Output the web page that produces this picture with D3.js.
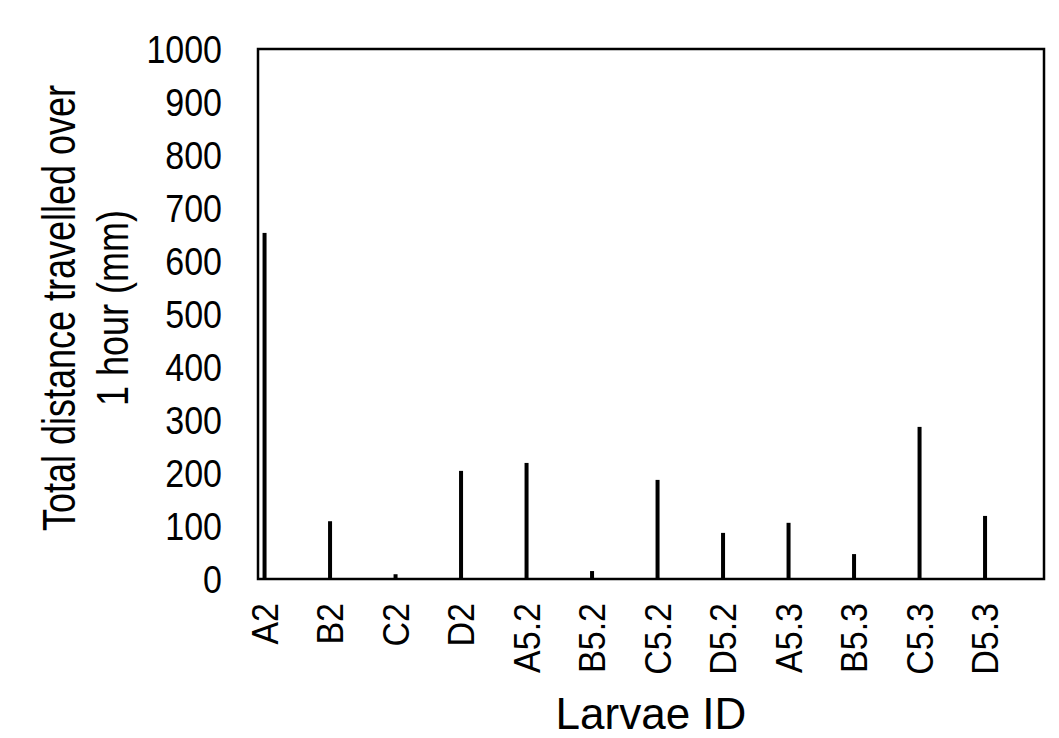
<!DOCTYPE html>
<html>
<head>
<meta charset="utf-8">
<script src="https://cdn.jsdelivr.net/npm/d3@7"></script>
<style>
  body { margin: 0; background: #fff; }
  svg text { font-family: "Liberation Sans", Arial, sans-serif; fill: #000; }
</style>
</head>
<body>
<svg id="chart" width="1059" height="738"></svg>
<script>
// larvae IDs and total distance over 1 hour (mm)
const larvae = ['A2', 'B2', 'C2', 'D2', 'A5.2', 'B5.2', 'C5.2', 'D5.2', 'A5.3', 'B5.3', 'C5.3', 'D5.3'];
const distance = [653, 109, 9, 204, 219, 15, 187, 87, 106, 47, 287, 119];
const yTicks = [0, 100, 200, 300, 400, 500, 600, 700, 800, 900, 1000];

const margin = { left: 258, right: 15, top: 49, bottom: 159 };
const size = { width: 1059, height: 738 };

const svg = d3.select('#chart');

const xScale = d3.scaleBand()
  .domain(larvae)
  .range([margin.left, size.width - margin.right])
  .padding(0);

const yScale = d3.scaleLinear()
  .domain([0, 1000])
  .range([size.height - margin.bottom, margin.top]);

const barW = 4;
const barX = d => xScale(d) + xScale.step() * 0.1; // bars sit near the left of each band

// bars
svg.append('g')
  .selectAll('rect')
  .data(larvae.map((id, i) => ({ id, value: distance[i] })))
  .enter()
  .append('rect')
  .attr('x', d => barX(d.id) - barW / 2)
  .attr('y', d => yScale(d.value))
  .attr('width', barW)
  .attr('height', d => yScale(0) - yScale(d.value))
  .attr('fill', '#000');

// plot frame
svg.append('rect')
  .attr('x', margin.left)
  .attr('y', margin.top)
  .attr('width', size.width - margin.right - margin.left)
  .attr('height', size.height - margin.bottom - margin.top)
  .attr('fill', 'none')
  .attr('stroke', '#000')
  .attr('stroke-width', 2.5);

// y axis labels (glyphs in the original are a bit taller than Arial)
const yAxis = svg.append('g')
  .attr('transform', `translate(${margin.left}, 0)`)
  .call(d3.axisLeft(yScale).tickValues(yTicks).tickFormat(d3.format('d')).tickSize(0).tickPadding(36));
yAxis.select('.domain').remove();
yAxis.selectAll('text')
  .style('font-family', '"Liberation Sans", Arial, sans-serif')
  .style('font-size', '34px')
  .attr('dy', '0.36em')
  .attr('transform', 'scale(1, 1.13)');

// x axis labels (rotated)
svg.append('g')
  .selectAll('text')
  .data(larvae)
  .enter()
  .append('text')
  .attr('transform', d => `translate(${barX(d)}, ${size.height - margin.bottom + 24}) rotate(-90) scale(1, 1.08)`)
  .attr('dy', '0.36em')
  .attr('text-anchor', 'end')
  .style('font-size', '34px')
  .text(d => d);

// axis titles
const midX = (margin.left + size.width - margin.right) / 2;
const midY = (margin.top + size.height - margin.bottom) / 2;

svg.append('text')
  .attr('x', midX)
  .attr('y', 729)
  .attr('text-anchor', 'middle')
  .style('font-size', '44px')
  .text('Larvae ID');

svg.append('text')
  .attr('transform', `translate(75, ${midY - 6}) rotate(-90) scale(1, 1.27)`)
  .attr('text-anchor', 'middle')
  .style('font-size', '36px')
  .text('Total distance travelled over');

svg.append('text')
  .attr('transform', `translate(128, ${midY - 6}) rotate(-90) scale(1, 1.22)`)
  .attr('text-anchor', 'middle')
  .style('font-size', '36px')
  .text('1 hour (mm)');
</script>
</body>
</html>
